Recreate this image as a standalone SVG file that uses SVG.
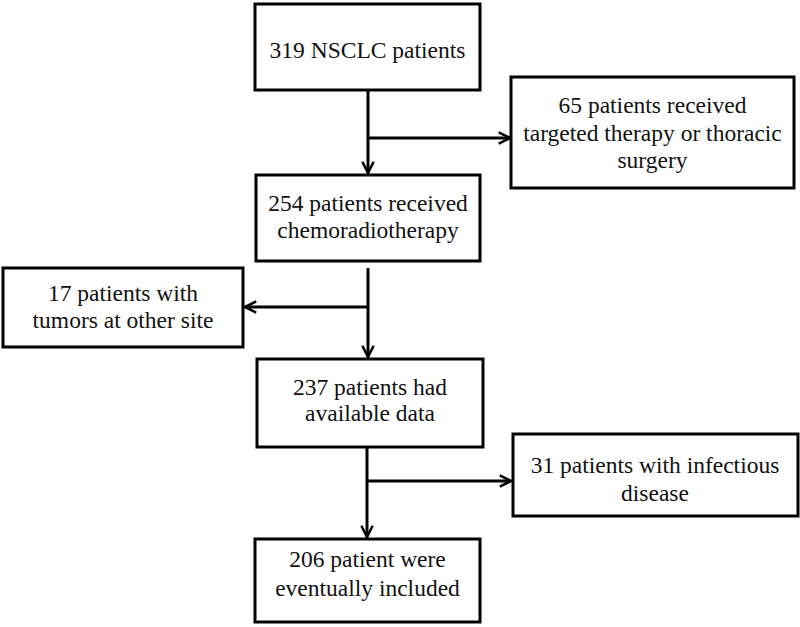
<svg xmlns="http://www.w3.org/2000/svg" width="800" height="627" viewBox="0 0 800 627">
<style>
.box{fill:#fff;stroke:#000;stroke-width:3}
.t{font-family:'Liberation Serif','Times New Roman',serif;font-size:23.5px;fill:#111;text-anchor:middle}
.ln{fill:none;stroke:#000;stroke-width:3;marker-end:url(#ah)}
</style>
<defs>
<marker id="ah" viewBox="0 0 12 12" refX="11" refY="6" markerWidth="4.5" markerHeight="4.5" markerUnits="strokeWidth" orient="auto">
<path d="M1,1 L11,6 L1,11" fill="none" stroke="#000" stroke-width="2.2"/>
</marker>
</defs>
<rect width="800" height="627" fill="#fff"/>
<g id="connectors">
<path class="ln" d="M368,90 V173"/>
<path class="ln" d="M368,138 H510"/>
<path class="ln" d="M368,268 V357"/>
<path class="ln" d="M368,307 H245"/>
<path class="ln" d="M367,447 V537"/>
<path class="ln" d="M367,481 H511"/>
</g>
<g id="n1"><rect class="box" x="255" y="4" width="225" height="86"/><text class="t" x="367.5" y="57.5">319 NSCLC patients</text></g>
<g id="n2"><rect class="box" x="511" y="77" width="283" height="111"/><text class="t" x="652.5" y="113">65 patients received</text><text class="t" x="652.5" y="140.5">targeted therapy or thoracic</text><text class="t" x="652.5" y="168">surgery</text></g>
<g id="n3"><rect class="box" x="256" y="175" width="224" height="86"/><text class="t" x="368" y="211">254 patients received</text><text class="t" x="368" y="238">chemoradiotherapy</text></g>
<g id="n4"><rect class="box" x="3" y="268" width="240" height="79"/><text class="t" x="123" y="301">17 patients with</text><text class="t" x="123" y="328">tumors at other site</text></g>
<g id="n5"><rect class="box" x="257" y="359" width="226" height="88"/><text class="t" x="370" y="395">237 patients had</text><text class="t" x="370" y="421">available data</text></g>
<g id="n6"><rect class="box" x="513" y="434" width="285" height="82"/><text class="t" x="655" y="473">31 patients with infectious</text><text class="t" x="655" y="501">disease</text></g>
<g id="n7"><rect class="box" x="255" y="539" width="225" height="83"/><text class="t" x="367.5" y="567">206 patient were</text><text class="t" x="367.5" y="596">eventually included</text></g>
</svg>
